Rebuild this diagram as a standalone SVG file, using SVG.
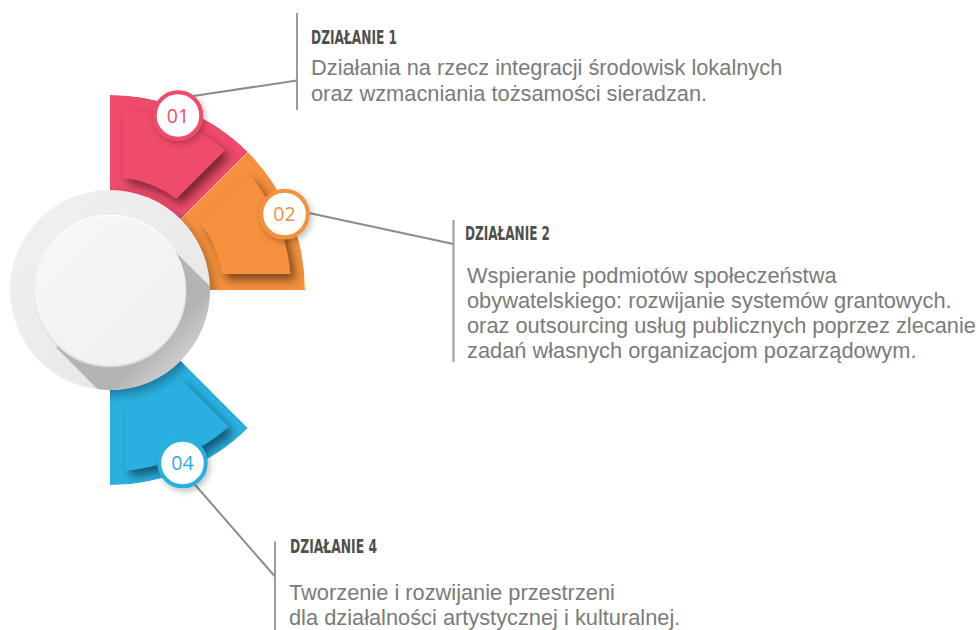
<svg xmlns="http://www.w3.org/2000/svg" width="979" height="630" viewBox="0 0 979 630">
<defs>
<style>
.conn{fill:none;stroke:#8c8c8c;stroke-width:2}
.bar{fill:none;stroke:#9b9b9b;stroke-width:2}
.head{font-family:"DejaVu Sans Condensed","DejaVu Sans",sans-serif;font-weight:bold;font-size:20px;fill:#4f4f4f}
.body{font-family:"Liberation Sans",Arial,sans-serif;font-size:21.8px;fill:#7b7b7b}
.num{font-family:"Open Sans","Liberation Sans",sans-serif;font-size:19.5px;text-anchor:middle}
.badge{fill:#ffffff;stroke-width:4}
.red{fill:#ef4b6b}
.orange{fill:#f5903c}
.blue{fill:#29b0e0}
</style>
<filter id="cardShadow" x="-30%" y="-30%" width="160%" height="160%">
<feDropShadow dx="5" dy="6" stdDeviation="5" flood-color="#000000" flood-opacity="0.5"/>
</filter>
<filter id="badgeShadow" x="-40%" y="-40%" width="180%" height="180%">
<feDropShadow dx="2" dy="3" stdDeviation="3" flood-color="#000000" flood-opacity="0.25"/>
</filter>
<filter id="blur5" x="-30%" y="-30%" width="160%" height="160%">
<feGaussianBlur stdDeviation="5"/>
</filter>
<clipPath id="clipRed"><path d="M110,290 L110,95 A195,195 0 0 1 247.89,152.11 Z"/></clipPath>
<clipPath id="clipOrange"><path d="M110,290 L247.89,152.11 A195,195 0 0 1 305,290 Z"/></clipPath>
<clipPath id="clipBlue"><path d="M110,290 L247.89,427.89 A195,195 0 0 1 110,485 Z"/></clipPath>
<clipPath id="clipOuter"><circle cx="110" cy="290" r="100"/></clipPath>
<linearGradient id="outerGrad" x1="0" y1="0" x2="1" y2="1">
<stop offset="0" stop-color="#f1f1f1"/>
<stop offset="1" stop-color="#e6e6e6"/>
</linearGradient>
<linearGradient id="innerGrad" x1="0" y1="0" x2="1" y2="1">
<stop offset="0" stop-color="#f8f8f8"/>
<stop offset="1" stop-color="#efefef"/>
</linearGradient>
<linearGradient id="rimGrad" x1="0" y1="0" x2="0" y2="1">
<stop offset="0" stop-color="#ffffff"/>
<stop offset="1" stop-color="#d9d9d9"/>
</linearGradient>
<linearGradient id="longShadow" gradientUnits="userSpaceOnUse" x1="160" y1="340" x2="200" y2="380">
<stop offset="0" stop-color="#b4b4b4"/>
<stop offset="1" stop-color="#e2e2e2"/>
</linearGradient>
</defs>

<rect width="979" height="630" fill="#ffffff"/>

<g id="connectors">
<polyline class="conn" points="190,96.5 297,80.5"/>
<line class="bar" x1="297" y1="13" x2="297" y2="110"/>
<polyline class="conn" points="295,210 453.5,244"/>
<line class="bar" x1="453.5" y1="220" x2="453.5" y2="362"/>
<polyline class="conn" points="190,479 275,576.5"/>
<line class="bar" x1="275" y1="541.5" x2="275" y2="630"/>
</g>

<g id="node-01">
<g clip-path="url(#clipRed)">
<path class="red" d="M110,290 L110,95 A195,195 0 0 1 247.89,152.11 Z"/>
<circle cx="114" cy="295" r="100" fill="#000" opacity="0.3" filter="url(#blur5)"/>
<path class="red" filter="url(#cardShadow)" d="M123,109.5 A181,181 0 0 1 224.9,150.1 L176.42,198.58 A113,113 0 0 0 123,177.75 Z"/>
</g>
<circle class="badge" filter="url(#badgeShadow)" cx="178" cy="115.5" r="23.3" stroke="#ef4b6b"/>
<text class="num" x="178" y="122.5" fill="#ef4b6b">01</text>
</g>

<g id="node-02">
<g clip-path="url(#clipOrange)">
<path class="orange" d="M110,290 L247.89,152.11 A195,195 0 0 1 305,290 Z"/>
<circle cx="114" cy="295" r="100" fill="#000" opacity="0.3" filter="url(#blur5)"/>
<path class="orange" filter="url(#cardShadow)" d="M248.97,174.03 A181,181 0 0 1 290.3,274 L221.9,274 A113,113 0 0 0 200.57,222.43 Z"/>
</g>
<circle class="badge" filter="url(#badgeShadow)" cx="284.5" cy="214" r="23.3" stroke="#f5903c"/>
<text class="num" x="284.5" y="221" fill="#f5903c">02</text>
</g>

<g id="node-04">
<g clip-path="url(#clipBlue)">
<path class="blue" d="M110,290 L247.89,427.89 A195,195 0 0 1 110,485 Z"/>
<circle cx="114" cy="295" r="100" fill="#000" opacity="0.3" filter="url(#blur5)"/>
<path class="blue" filter="url(#cardShadow)" d="M125,402 A113,113 0 0 0 180.4,378.4 L228.67,426.67 A181,181 0 0 1 125,470.4 Z"/>
</g>
<circle class="badge" filter="url(#badgeShadow)" cx="182.5" cy="463" r="23.3" stroke="#29b0e0"/>
<text class="num" x="182.5" y="470" fill="#29b0e0">04</text>
</g>

<g id="node-center">
<circle cx="110" cy="290" r="100" fill="url(#outerGrad)"/>
<g clip-path="url(#clipOuter)">
<path d="M163.74,240.26 L283.74,360.26 L176.26,467.74 L56.26,347.74 Z" fill="url(#longShadow)"/>
</g>
<circle cx="110" cy="291" r="75.5" fill="url(#innerGrad)" stroke="url(#rimGrad)" stroke-width="1.5"/>
</g>

<g id="label-1">
<text class="head" x="311" y="44.3" textLength="86" lengthAdjust="spacingAndGlyphs">DZIAŁANIE 1</text>
<text class="body" x="311" y="75">Działania na rzecz integracji środowisk lokalnych</text>
<text class="body" x="311" y="100.5">oraz wzmacniania tożsamości sieradzan.</text>
</g>

<g id="label-2">
<text class="head" x="465" y="240" textLength="85" lengthAdjust="spacingAndGlyphs">DZIAŁANIE 2</text>
<text class="body" x="467" y="283.3">Wspieranie podmiotów społeczeństwa</text>
<text class="body" x="467" y="308.3">obywatelskiego: rozwijanie systemów grantowych.</text>
<text class="body" x="467" y="333.3">oraz outsourcing usług publicznych poprzez zlecanie</text>
<text class="body" x="467" y="358.3">zadań własnych organizacjom pozarządowym.</text>
</g>

<g id="label-4">
<text class="head" x="290" y="553.3" textLength="87" lengthAdjust="spacingAndGlyphs">DZIAŁANIE 4</text>
<text class="body" x="289" y="600">Tworzenie i rozwijanie przestrzeni</text>
<text class="body" x="289" y="625">dla działalności artystycznej i kulturalnej.</text>
</g>
</svg>
